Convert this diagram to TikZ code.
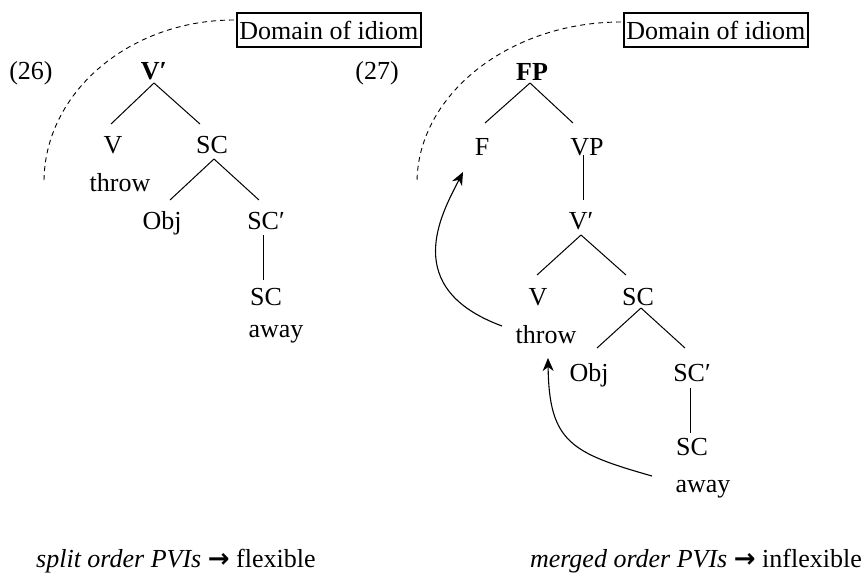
\documentclass[tikz,border=0pt]{standalone}
\usepackage{fontspec}
\setmainfont{Liberation Serif}
\newfontfamily\arrowfont{DejaVu Sans}
\usetikzlibrary{calc,arrows.meta}

\begin{document}
\begin{tikzpicture}[
  x=1pt, y=-1pt,
  font=\fontsize{26}{31}\selectfont,
  lbl/.style={anchor=base, inner sep=0pt},
  branch/.style={line width=1pt},
  idiombox/.style={draw, line width=1.5pt, inner xsep=2.5pt, inner ysep=1pt,
                   text height=25pt, text depth=7pt, anchor=base west},
  idiomarc/.style={dash pattern=on 5pt off 4pt, line width=0.9pt},
  movement/.style={line width=1.1pt, -{Stealth[length=13pt,width=11pt,inset=4pt]}},
  caption/.style={inner sep=0pt}
]
\useasboundingbox (0,0) rectangle (863,574);

% ---------- (26) ----------
\node[idiombox] (box1) at (236,39) {Domain of idiom};
\node[lbl] (ex26)   at (31,79)   {(26)};
\node[lbl] (Vb)     at (154,79)  {\textbf{V′}};
\node[lbl] (V1)     at (113,153) {V};
\node[lbl] (SC1)    at (212,153) {SC};
\node[lbl] (throw1) at (120,191) {throw};
\node[lbl] (Obj1)   at (162,229) {Obj};
\node[lbl] (SCp1)   at (266,229) {SC′};
\node[lbl] (SCl1)   at (266,305) {SC};
\node[lbl] (away1)  at (276,337) {away};

\draw[branch] ($(Vb.base)+(0,4)$) -- ($(V1.base)+(-2,-29)$);
\draw[branch] ($(Vb.base)+(0,4)$) -- ($(SC1.base)+(-12,-29)$);
\draw[branch] ($(SC1.base)+(2,6)$) -- ($(Obj1.base)+(8,-29)$);
\draw[branch] ($(SC1.base)+(2,6)$) -- ($(SCp1.base)+(-7,-29)$);
\draw[branch] ($(SCp1.base)+(-3,6)$) -- ($(SCl1.base)+(-3,-25)$);

\coordinate (arcL) at (44,182);
\draw[idiomarc] ($(box1.west)+(-2,-10)$) .. controls (129,20) and (44,93) .. (arcL);

% ---------- (27) ----------
\node[idiombox] (box2) at (623,39) {Domain of idiom};
\node[lbl] (ex27)   at (377,79)  {(27)};
\node[lbl] (FP)     at (532,80)  {\textbf{FP}};
\node[lbl] (F)      at (482,155) {F};
\node[lbl] (VP)     at (587,155) {VP};
\node[lbl] (Vp2)    at (581,229) {V′};
\node[lbl] (V2)     at (538,305) {V};
\node[lbl] (SC2)    at (638,305) {SC};
\node[lbl] (throw2) at (546,343) {throw};
\node[lbl] (Obj2)   at (589,381) {Obj};
\node[lbl] (SCp2)   at (692,381) {SC′};
\node[lbl] (SCl2)   at (692,455) {SC};
\node[lbl] (away2)  at (703,492) {away};

\draw[branch] ($(FP.base)+(-2,3)$) -- ($(F.base)+(3,-32)$);
\draw[branch] ($(FP.base)+(-2,3)$) -- ($(VP.base)+(-14,-32)$);
\draw[branch] ($(VP.base)+(-4,0)$) -- ($(Vp2.base)+(2,-29)$);
\draw[branch] ($(Vp2.base)+(0,6)$) -- ($(V2.base)+(-1,-30)$);
\draw[branch] ($(Vp2.base)+(0,6)$) -- ($(SC2.base)+(-12,-30)$);
\draw[branch] ($(SC2.base)+(3,3)$) -- ($(Obj2.base)+(8,-33)$);
\draw[branch] ($(SC2.base)+(3,3)$) -- ($(SCp2.base)+(-7,-33)$);
\draw[branch] ($(SCp2.base)+(-2,7)$) -- ($(SCl2.base)+(-2,-22)$);

\coordinate (arcR) at (417,183);
\draw[idiomarc] ($(box2.west)+(-2,-8)$) .. controls (509,22) and (417,95) .. (arcR);

% head movement
\draw[movement] ($(throw2.base)+(-44,-17)$) .. controls (399,288) and (442,213) .. ($(F.base)+(-19,17)$);
\draw[movement] ($(away2.base)+(-51,-16)$) .. controls (571,453) and (549,442) .. ($(throw2.base)+(2,15)$);

% captions
\node[caption, anchor=base west] (capL) at (36,567)
  {\textit{split order PVIs} {\arrowfont\bfseries →} flexible};
\node[caption, anchor=base east] (capR) at (862,567)
  {\textit{merged order PVIs} {\arrowfont\bfseries →} inflexible};
\end{tikzpicture}
\end{document}
